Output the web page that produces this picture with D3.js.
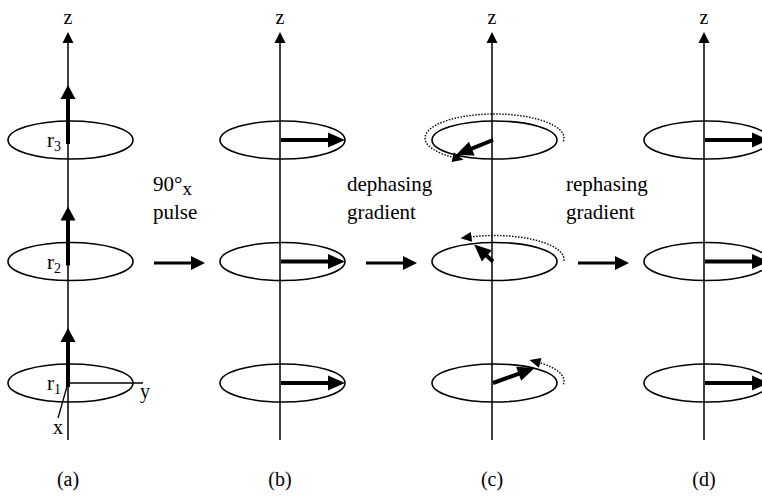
<!DOCTYPE html>
<html>
<head>
  <script src="https://d3js.org/d3.v7.min.js"></script>
  <style>
    body { margin: 0; background: #fff; }
  </style>
</head>
<body>
<div id="chart"></div>
<script>
  var panels = ["(a)", "(b)", "(c)", "(d)"];
  var slices = ["r3", "r2", "r1"];

  // transverse magnetization angle (deg) per slice, panels b, c, d
  var phaseB = [0, 0, 0];
  var phaseC = [128, -110, -51];
  var phaseD = [0, 0, 0];
  var lengthC = [1.0, 0.95, 1.02];

  // dotted precession arcs in panel (c), start / end angle (deg)
  var arcStart = [8, 3, 8];
  var arcEnd = [-236, -112, -52];

  var stepLine1 = ["90°", "dephasing", "rephasing"];
  var stepSub = ["x", "", ""];
  var stepLine2 = ["pulse", "gradient", "gradient"];

  var width = 762, height = 496;
  var rx = 62.5, ry = 19;
  var serif = "'Liberation Serif', 'Times New Roman', Times, 'DejaVu Serif', serif";

  var svg = d3.select("#chart").append("svg")
    .attr("width", width)
    .attr("height", height)
    .attr("font-family", serif)
    .style("font-family", serif);

  var x = d3.scalePoint().domain(panels).range([68, 704]);
  var y = d3.scalePoint().domain(slices).range([140, 383]);

  function head(g, tx, ty, ang, len, hw) {
    var c = Math.cos(ang), s = Math.sin(ang);
    var bx = tx - c * len, by = ty - s * len;
    var pts = [[tx, ty], [bx - s * hw, by + c * hw], [bx + s * hw, by - c * hw]];
    g.append("path").attr("d", d3.line()(pts) + "Z").attr("fill", "#000");
  }

  function arrow(g, x1, y1, x2, y2, w, len, hw) {
    var ang = Math.atan2(y2 - y1, x2 - x1);
    g.append("line")
      .attr("x1", x1).attr("y1", y1)
      .attr("x2", x2 - Math.cos(ang) * (len - 2)).attr("y2", y2 - Math.sin(ang) * (len - 2))
      .attr("stroke", "#000").attr("stroke-width", w);
    head(g, x2, y2, ang, len, hw);
  }

  panels.forEach(function(p, pi) {
    var g = svg.append("g");
    var ax = x(p);

    // z axis
    g.append("line")
      .attr("x1", ax).attr("x2", ax)
      .attr("y1", 440).attr("y2", 42)
      .attr("stroke", "#000").attr("stroke-width", 1.5);
    head(g, ax, 32, -Math.PI / 2, 11, 5.5);
    g.append("text")
      .attr("x", ax).attr("y", 24)
      .attr("text-anchor", "middle")
      .style("font-size", "20px")
      .text("z");

    // panel label
    g.append("text")
      .attr("x", ax).attr("y", 486)
      .attr("text-anchor", "middle")
      .style("font-size", "20px")
      .text(p);

    slices.forEach(function(s, si) {
      var cy = y(s);
      var cx = ax + 2.5;

      g.append("ellipse")
        .attr("cx", cx).attr("cy", cy)
        .attr("rx", rx).attr("ry", ry)
        .attr("fill", "none")
        .attr("stroke", "#000").attr("stroke-width", 1.6);

      if (pi === 0) {
        // longitudinal magnetization along z
        arrow(g, ax, cy + 4, ax, cy - 55, 4, 14, 7.5);
        g.append("text")
          .attr("x", 47).attr("y", cy + 7)
          .style("font-size", "21px")
          .text("r")
          .append("tspan")
          .attr("dy", 4)
          .style("font-size", "14px")
          .text(s.slice(1));
      } else {
        var ph = [null, phaseB, phaseC, phaseD][pi][si];
        var f = pi === 2 ? lengthC[si] : 1;
        var t = ph * Math.PI / 180;
        arrow(g, ax + 1, cy, cx + rx * f * Math.cos(t), cy + ry * f * Math.sin(t), 4, 17, 7.5);
      }

      if (pi === 2) {
        var arx = rx + 7, ary = ry + 5, acy = cy - 2;
        var ts = d3.range(0, 61).map(function(i) {
          return (arcStart[si] + (arcEnd[si] - arcStart[si]) * i / 60) * Math.PI / 180;
        });
        g.append("path")
          .attr("d", d3.line()(ts.map(function(a) {
            return [cx + arx * Math.cos(a), acy + ary * Math.sin(a)];
          })))
          .attr("fill", "none")
          .attr("stroke", "#000")
          .attr("stroke-width", 1.4)
          .attr("stroke-dasharray", "1.5,1.5");
        var te = arcEnd[si] * Math.PI / 180;
        var dir = Math.atan2(-ary * Math.cos(te), arx * Math.sin(te));
        var ex = cx + arx * Math.cos(te), ey = acy + ary * Math.sin(te);
        head(g, ex + Math.cos(dir) * 8, ey + Math.sin(dir) * 8, dir, 11, 5);
      }
    });

    // step arrow and caption to the next panel
    if (pi < panels.length - 1) {
      arrow(g, ax + 86, 263, ax + 137, 263, 3, 14, 7);
      var tx = [85, 67, 74][pi] + ax;
      var t1 = g.append("text")
        .attr("x", tx).attr("y", 191)
        .style("font-size", "21px")
        .text(stepLine1[pi]);
      if (stepSub[pi]) {
        t1.append("tspan").attr("dy", 4).style("font-size", "19px").text(stepSub[pi]);
      }
      g.append("text")
        .attr("x", tx).attr("y", 219)
        .style("font-size", "21px")
        .text(stepLine2[pi]);
    }
  });

  // x / y axes under slice r1 in panel (a)
  var a0 = x(panels[0]), r1 = y("r1");
  svg.append("line")
    .attr("x1", a0).attr("y1", r1).attr("x2", a0 + 75).attr("y2", r1)
    .attr("stroke", "#000").attr("stroke-width", 1.3);
  svg.append("line")
    .attr("x1", a0).attr("y1", r1).attr("x2", a0 - 10).attr("y2", r1 + 35)
    .attr("stroke", "#000").attr("stroke-width", 1.3);
  svg.append("text")
    .attr("x", a0 + 72).attr("y", r1 + 15)
    .style("font-size", "20px")
    .text("y");
  svg.append("text")
    .attr("x", a0 - 10).attr("y", r1 + 51)
    .attr("text-anchor", "middle")
    .style("font-size", "20px")
    .text("x");
</script>
</body>
</html>
